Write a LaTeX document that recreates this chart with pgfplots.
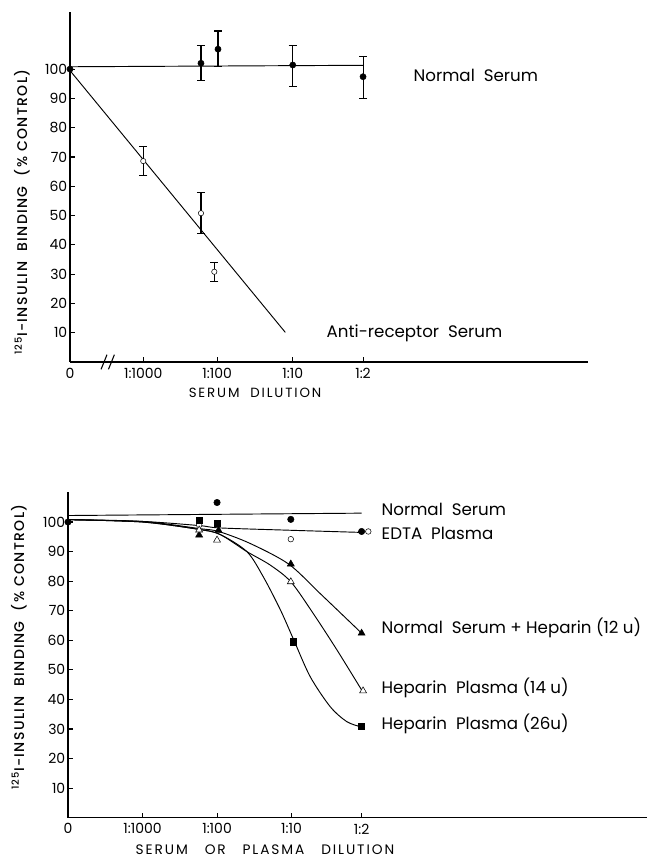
\documentclass[border=0pt]{standalone}
\usepackage{pgfplots}
\pgfplotsset{compat=1.18}
\usepackage{fontspec}
\setmainfont{Poppins}
\newfontfamily\lblfont[LetterSpace=14]{Poppins}
\newfontfamily\ylblfont[LetterSpace=10]{Poppins Medium}

\pgfplotsset{
  myaxis/.style={
    scale only axis,
    axis lines*=left,
    axis line style={line width=1pt},
    tick align=inside,
    major tick length=3.5pt,
    tick style={line width=0.8pt,black},
    ytick={10,20,...,100},
    xticklabels={0,1:1000,1:100,1:10,1:2},
    ticklabel style={font=\fontsize{10.5}{11}\selectfont},
    /pgf/number format/assume math mode=true,
    xticklabel style={yshift=-1pt},
    yticklabel style={xshift=1.5pt},
    clip=false,
  },
  ebar/.style={error bars/.cd, y dir=both, y explicit,
    error bar style={line width=0.8pt,black},
    error mark options={rotate=90,mark size=3pt,line width=0.8pt,black}},
}

\begin{document}
\begin{tikzpicture}
\useasboundingbox (0,0) rectangle (486.75pt,647.25pt);

% ---------------- top panel ----------------
\begin{axis}[myaxis, at={(52.5pt,375.75pt)}, anchor=south west,
  width=388.5pt, height=262.5pt,
  xmin=0, xmax=7, ymin=0, ymax=119.5,
  xtick={0,0.99,1.99,3.01,3.96}]
\addplot[line width=0.7pt] coordinates {(0,100.8) (3.96,101.3)};
\addplot[line width=0.7pt] coordinates {(0,99.5) (2.91,10.1)};
\addplot[only marks, mark=*, mark size=2.3pt, black, ebar] coordinates {
  (0,100)
  (1.77,102) += (0,6) -= (0,6)
  (2.0,106.8) += (0,6.2) -= (0,6)
  (3.01,101.4) += (0,6.6) -= (0,7.4)
  (3.96,97.4) += (0,7) -= (0,7.4)
};
\addplot[only marks, mark=*, mark size=2pt, black, mark options={fill=white}, ebar] coordinates {
  (0.99,68.6) += (0,5.1) -= (0,4.8)
  (1.77,50.8) += (0,7) -= (0,6.9)
  (1.95,30.8) += (0,3.2) -= (0,3.2)
};
\draw[line width=0.8pt] (axis cs:0.42,-2.5) -- (axis cs:0.5,2.5);
\draw[line width=0.8pt] (axis cs:0.52,-2.5) -- (axis cs:0.6,2.5);
\end{axis}

% ---------------- bottom panel ----------------
\begin{axis}[myaxis, at={(51pt,34pt)}, anchor=south west,
  width=434.25pt, height=243.9pt,
  xmin=0, xmax=7.77, ymin=0, ymax=110,
  xtick={0,1,2,3,3.94}]
% fitted curves
\addplot[line width=0.7pt] coordinates {(0,102.2) (3.94,103.0)};
\addplot[line width=0.7pt, smooth] coordinates {(0,100.8) (1,100.2) (1.76,98.8) (2.04,98.0) (3,97.2) (3.92,96.5)};
\addplot[line width=0.7pt, smooth] coordinates {(0,100.8) (1,100.2) (1.76,97.8) (2.02,96.8) (2.44,92.8) (2.96,85.8) (3.38,75.9) (3.94,62.4)};
\addplot[line width=0.7pt, smooth] coordinates {(0,100.8) (1,100) (1.76,97.5) (2.04,95.8) (2.40,90.0) (2.71,85.5) (2.99,79.8) (3.29,69.1) (3.61,56.7) (3.94,43.2)};
\addplot[line width=0.7pt, smooth] coordinates {(0,100.8) (1,100) (1.76,97.5) (2.04,95.8) (2.40,90) (2.62,81.5) (2.85,70.3) (3.03,60.1) (3.25,47.7) (3.52,37.5) (3.74,32.5) (3.92,30.8)};
% markers
\addplot[only marks, mark=*, mark size=2.4pt, black] coordinates {(0,100) (2.0,106.6) (2.99,100.9) (3.94,96.8)};
\addplot[only marks, mark=*, mark size=2.1pt, black, mark options={fill=white}] coordinates {(1.76,99.0) (2.99,94.2) (4.03,96.8)};
\addplot[only marks, mark=triangle*, mark size=3pt, black] coordinates {(1.76,95.6) (2.02,97.2) (2.99,85.8) (3.94,62.4)};
\addplot[only marks, mark=triangle*, mark size=3pt, black, mark options={fill=white}] coordinates {(1.76,97.3) (2.0,93.9) (2.99,79.8) (3.96,42.9)};
\addplot[only marks, mark=square*, mark size=2.3pt, black] coordinates {(1.76,100.7) (2.0,99.6) (3.02,59.5) (3.94,30.9)};
\end{axis}

% ---------------- text (pixel coordinates) ----------------
\begin{scope}[x=0.75pt,y=-0.75pt,yshift=647.25pt]
\node[rotate=90] at (22,212) {\ylblfont\fontsize{10.5}{11}\selectfont\textsuperscript{125}I-INSULIN\ \ BINDING\ \ (\% CONTROL)};
\node at (255,393) {\lblfont\fontsize{10}{11}\selectfont SERUM\ \ DILUTION};
\node[anchor=west] at (409,75) {\fontsize{12.5}{13}\selectfont Normal\ \ Serum};
\node[anchor=west] at (322,333) {\fontsize{12.5}{13}\selectfont Anti-receptor\ \ Serum};

\node[rotate=90] at (19,647) {\ylblfont\fontsize{10.5}{11}\selectfont\textsuperscript{125}I-INSULIN\ \ BINDING\ \ (\% CONTROL)};
\node at (265,850) {\lblfont\fontsize{10.3}{11}\selectfont SERUM\ \ \ OR\ \ \ PLASMA\ \ \ DILUTION};
\node[anchor=west] at (377,509) {\fontsize{12.5}{13}\selectfont Normal\ \ Serum};
\node[anchor=west] at (377,533) {\fontsize{12.5}{13}\selectfont EDTA\ \ Plasma};
\node[anchor=west] at (377,628) {\fontsize{12.5}{13}\selectfont Normal\ \ Serum + Heparin (12 u)};
\node[anchor=west] at (377,688) {\fontsize{12.5}{13}\selectfont Heparin\ \ Plasma (14 u)};
\node[anchor=west] at (377,724) {\fontsize{12.5}{13}\selectfont Heparin\ \ Plasma (26u)};
\end{scope}
\end{tikzpicture}
\end{document}
